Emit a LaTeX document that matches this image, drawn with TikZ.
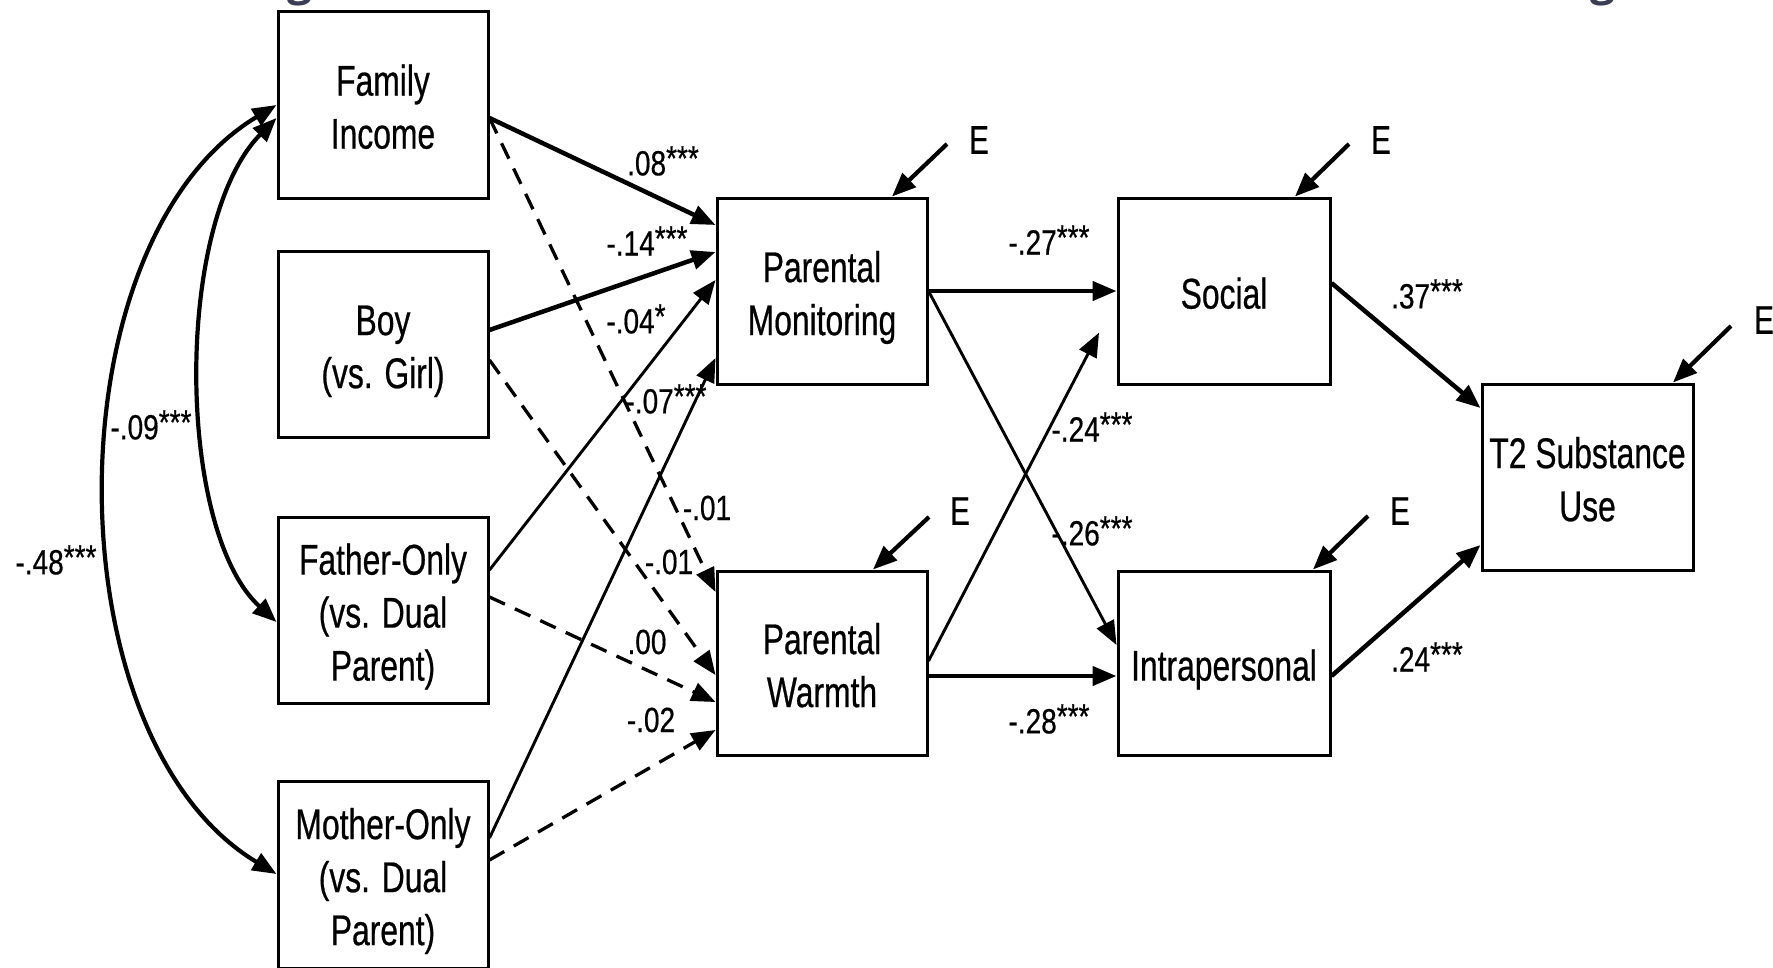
\documentclass[tikz,border=0pt]{standalone}
\usepackage{fontspec}
\setmainfont{Liberation Sans}
\newfontfamily\boxfont[FakeStretch=0.74,FakeBold=0.5]{Liberation Sans}
\newfontfamily\labfont[FakeStretch=0.8,FakeBold=0.5]{Liberation Sans}
\newfontfamily\headfont{Open Sans}
\usetikzlibrary{arrows.meta}
\definecolor{headcol}{HTML}{3B3C55}
\newcommand{\stars}{\raisebox{5pt}{***}}
\newcommand{\onestar}{\raisebox{5pt}{*}}
% box captions sit a little below the geometric centre
\newcommand{\boxtext}[1]{\raisebox{-7pt}[\height][\depth]{\begin{tabular}{@{}c@{}}#1\end{tabular}}}

\begin{document}
\begin{tikzpicture}[x=1pt,y=-1pt,
  var/.style={draw, line width=3pt, minimum width=210pt, minimum height=186pt,
    inner sep=0pt, font=\boxfont\fontsize{43pt}{53pt}\selectfont},
  coef/.style={inner sep=0pt, font=\labfont\fontsize{35pt}{38pt}\selectfont},
  elab/.style={inner sep=0pt, font=\boxfont\fontsize{40pt}{44pt}\selectfont},
  bigtip/.tip={Triangle[length=24pt,width=19pt]},
  heavy/.style={line width=4.5pt, -{bigtip}},
  light/.style={line width=2.9pt, -{bigtip}},
  dash path/.style={line width=3.3pt, dash pattern=on 17pt off 11pt, -{bigtip}},
  errarr/.style={line width=4.2pt, -{bigtip}},
  cov/.style={line width=4.2pt, {bigtip}-{bigtip}}]

\useasboundingbox (0,0) rectangle (1773,967);
\fill[white] (0,0) rectangle (1773,967);

% heading descenders peeking in at the top edge
\node[anchor=base, inner sep=0pt, text=headcol,
  font=\headfont\bfseries\fontsize{44pt}{44pt}\selectfont] (hg1) at (300,-5) {g};
\node[anchor=base, inner sep=0pt, text=headcol,
  font=\headfont\bfseries\fontsize{44pt}{44pt}\selectfont] (hg2) at (1603,-5) {g};

% exogenous variables
\node[var, minimum height=187pt] (fi) at (383,104.5) {\boxtext{Family\\Income}};
\node[var] (boy) at (383,344) {\boxtext{Boy\\(vs. Girl)}};
\node[var] (fa) at (383,610) {\boxtext{Father-Only\\(vs. Dual\\Parent)}};
\node[var, minimum height=187pt] (mo) at (383,874.5) {\boxtext{Mother-Only\\(vs. Dual\\Parent)}};

% mediators and outcome
\node[var] (pm) at (822,291) {\boxtext{Parental\\Monitoring}};
\node[var, minimum height=184pt] (pw) at (822,663) {\boxtext{Parental\\Warmth}};
\node[var, minimum width=212pt] (so) at (1224,291) {\boxtext{Social}};
\node[var, minimum width=212pt, minimum height=184pt] (ip) at (1224,663) {\boxtext{Intrapersonal}};
\node[var, minimum width=211pt] (t2) at (1587.5,477) {\boxtext{T2 Substance\\Use}};

% covariances among predictors
\draw[cov] (fi.west |- 0,105) .. controls (50,241) and (50,738) .. (mo.west |- 0,874);
\draw[cov] (fi.west |- 0,118) .. controls (174,222) and (176,530) .. (fa.west |- 0,622);
\node[coef] (c09) at (151,425) {-.09\stars};
\node[coef] (c48) at (56,560) {-.48\stars};

% paths to parental monitoring
\draw[heavy] (fi.east |- 0,118) -- (pm.west |- 0,225);
\draw[heavy] (boy.east |- 0,330) -- (pm.west |- 0,252);
\draw[light] (fa.east |- 0,570) -- (pm.west |- 0,280);
\draw[light] (mo.east |- 0,838) -- (pm.west |- 0,358);

% paths to parental warmth
\draw[dash path] (fi.east |- 0,118) -- (pw.west |- 0,592);
\draw[dash path] (boy.east |- 0,360) -- (pw.west |- 0,675);
\draw[dash path] (fa.east |- 0,597) -- (pw.west |- 0,702);
\draw[dash path] (mo.east |- 0,860) -- (pw.west |- 0,730);

\node[coef] (l1) at (663,161) {.08\stars};
\node[coef] (l2) at (647,241) {-.14\stars};
\node[coef] (l3) at (636,319) {-.04\onestar};
\node[coef] (l4) at (666,399) {-.07\stars};
\node[coef] (l5) at (707,508) {-.01};
\node[coef] (l6) at (669,562) {-.01};
\node[coef] (l7) at (647,642) {.00};
\node[coef] (l8) at (651,720) {-.02};

% parenting to motives
\draw[heavy] (pm.east |- 0,291) -- (so.west |- 0,291);
\draw[light] (pm.east |- 0,291) -- (ip.west |- 0,645);
\draw[light, shorten >=38pt] (pw.east |- 0,661) -- (so.west |- 0,299);
\draw[heavy] (pw.east |- 0,676) -- (ip.west |- 0,676);

\node[coef] (l9) at (1049,240) {-.27\stars};
\node[coef] (l10) at (1092,427) {-.24\stars};
\node[coef] (l11) at (1092,531) {-.26\stars};
\node[coef] (l12) at (1049,719) {-.28\stars};

% motives to substance use
\draw[heavy] (so.east |- 0,283) -- (t2.west |- 0,408);
\draw[heavy] (ip.east |- 0,676) -- (t2.west |- 0,545);
\node[coef] (l13) at (1427,294) {.37\stars};
\node[coef] (l14) at (1427,657) {.24\stars};

% residual terms
\node[elab] (e1) at (979,140) {E};
\coordinate (e1s) at (947,144);
\draw[errarr] (e1s) -- (pm.north -| 892,0);

\node[elab] (e2) at (1381,140) {E};
\coordinate (e2s) at (1349,144);
\draw[errarr] (e2s) -- (so.north -| 1295,0);

\node[elab] (e3) at (1764,320) {E};
\coordinate (e3s) at (1731,326);
\draw[errarr] (e3s) -- (t2.north -| 1673,0);

\node[elab] (e4) at (960,511) {E};
\coordinate (e4s) at (929,517);
\draw[errarr] (e4s) -- (pw.north -| 873,0);

\node[elab] (e5) at (1400,511) {E};
\coordinate (e5s) at (1368,516);
\draw[errarr] (e5s) -- (ip.north -| 1313,0);

\end{tikzpicture}
\end{document}
